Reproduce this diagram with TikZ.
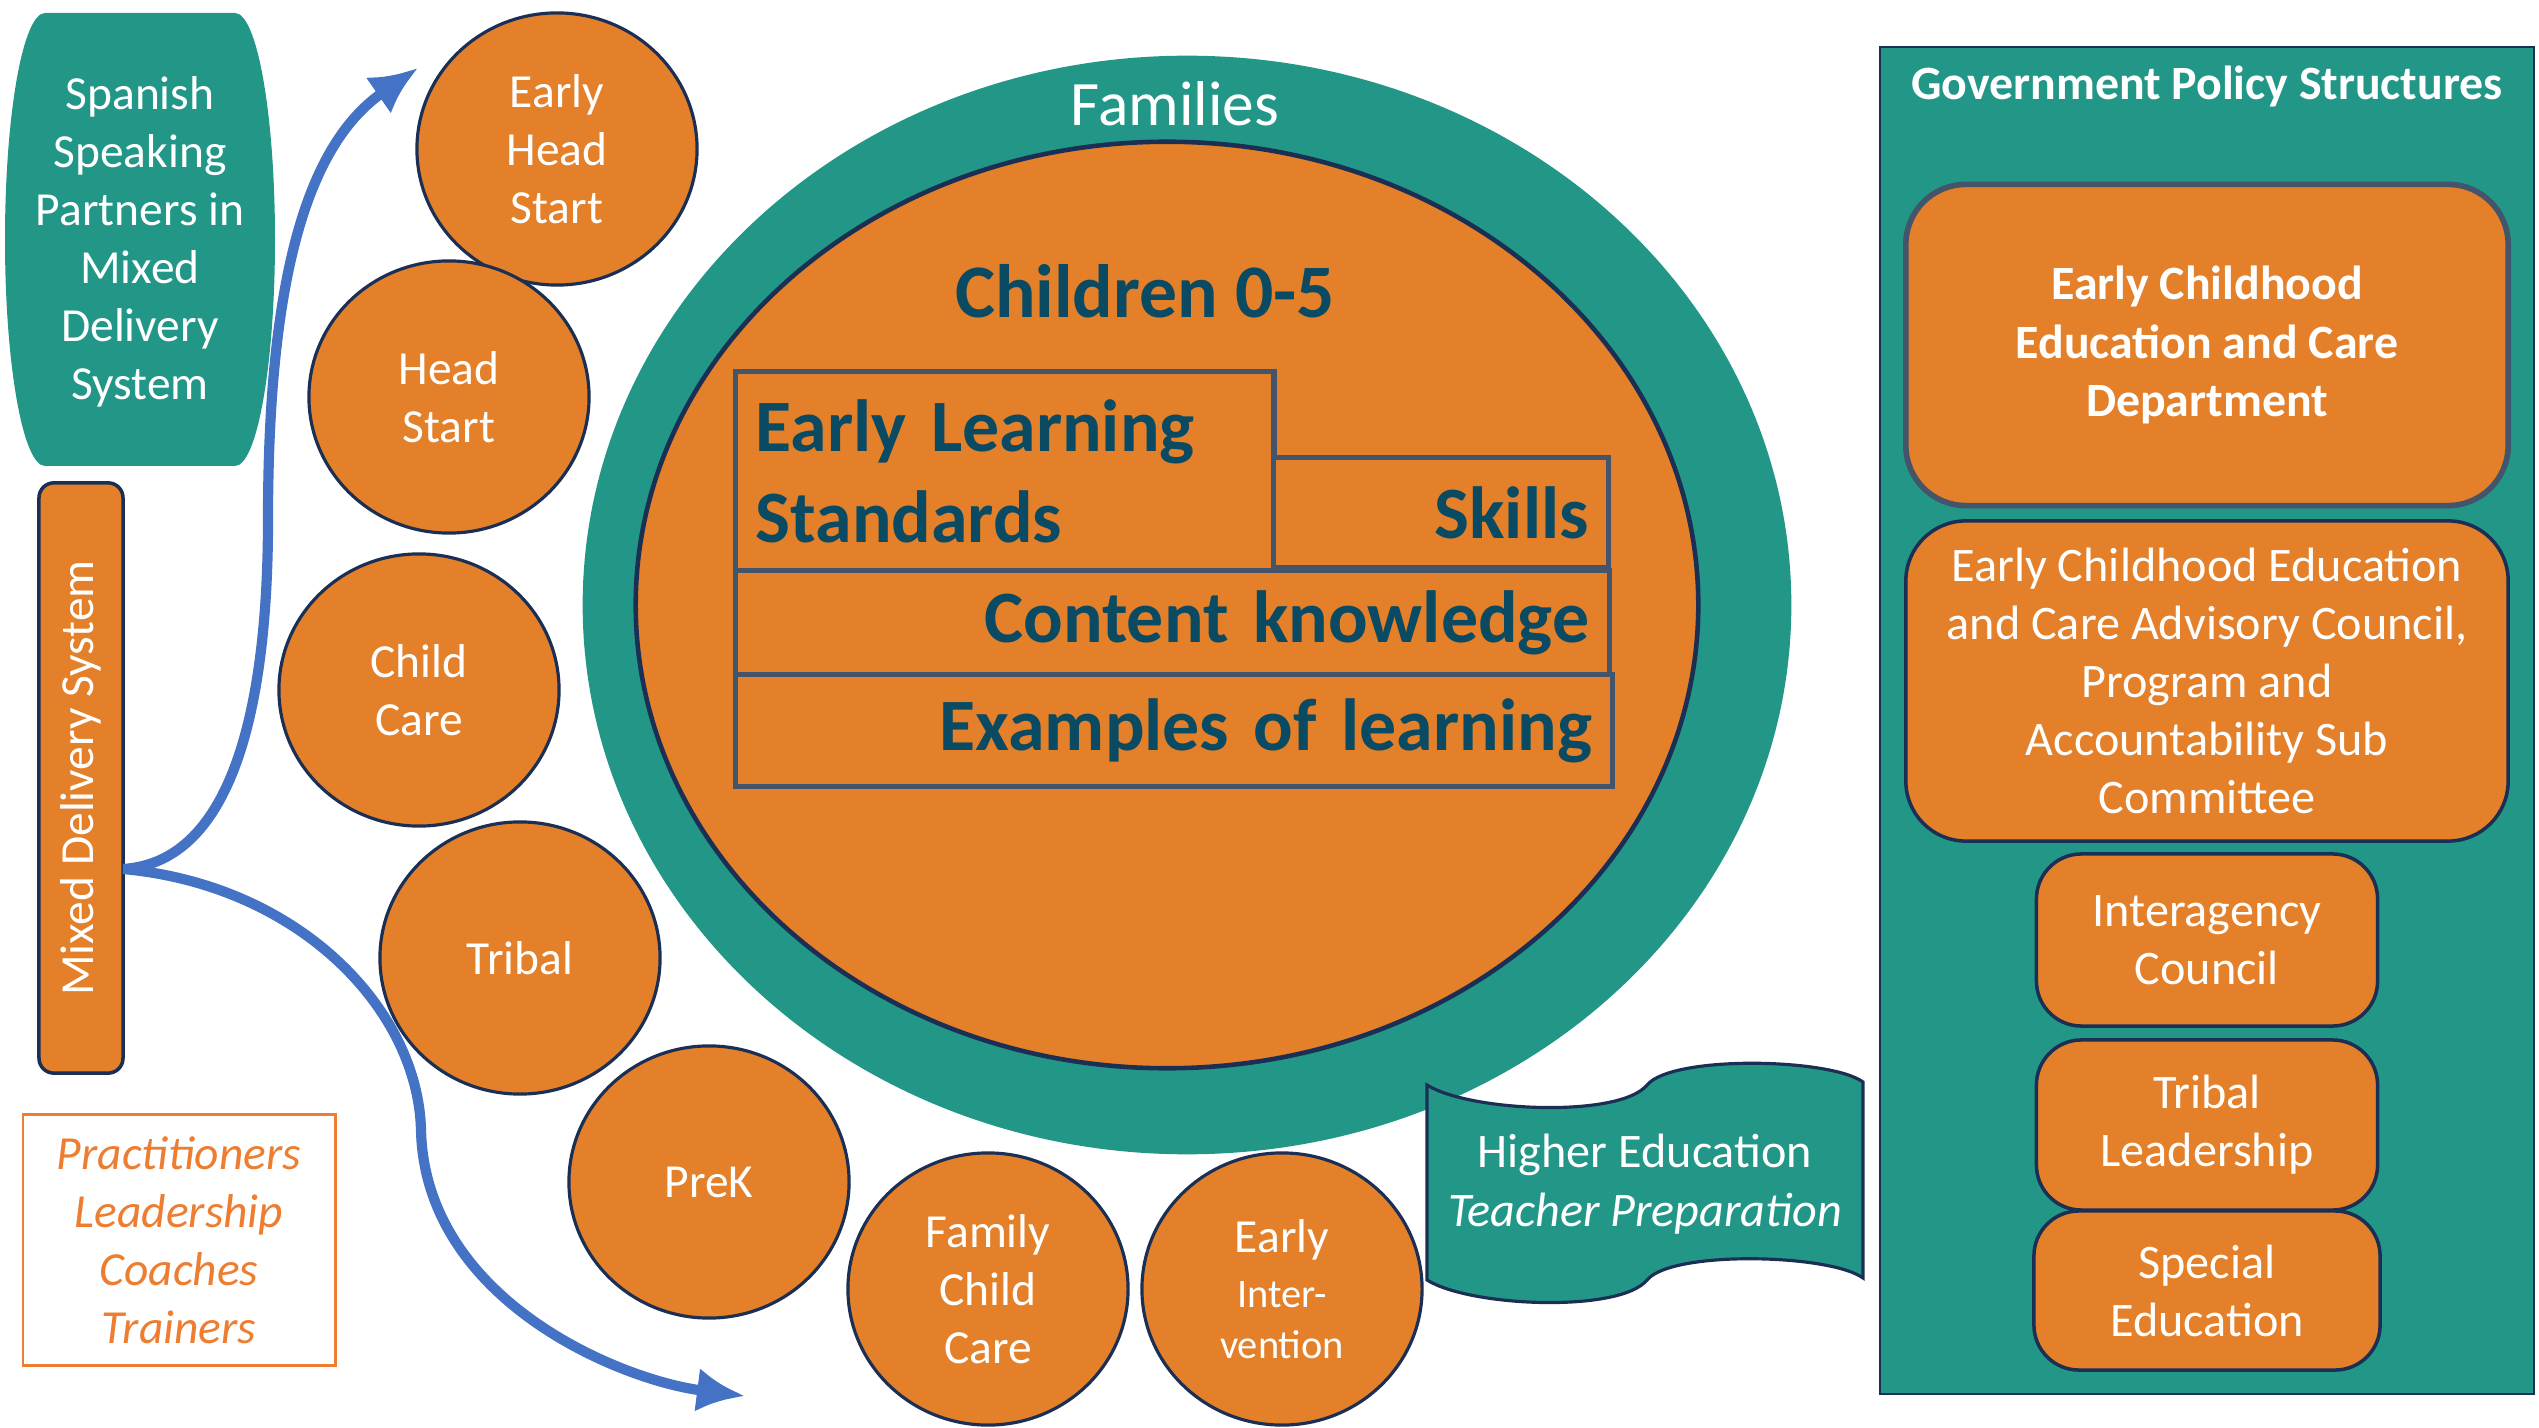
\documentclass[tikz,border=0pt]{standalone}
\usepackage{fontspec}
\setmainfont{Carlito}
\usetikzlibrary{shapes.geometric,arrows.meta,positioning}

\definecolor{edTeal}{HTML}{229787}
\definecolor{edOrange}{HTML}{E38029}
\definecolor{edNavy}{HTML}{1B2F55}
\definecolor{edSlate}{HTML}{44546A}
\definecolor{edInk}{HTML}{0A4A62}
\definecolor{edBlue}{HTML}{4472C4}
\definecolor{edPeach}{HTML}{ED7D31}

\tikzset{
  prog/.style={ellipse, draw=edNavy, line width=0.9pt, fill=edOrange, text=white,
    minimum width=2.80cm, minimum height=2.72cm, inner sep=0pt, align=center,
    font=\fontsize{13.5}{16.5}\selectfont},
  slab/.style={rectangle, draw=edSlate, line width=1.5pt, fill=edOrange, text=edInk,
    font=\fontsize{21}{26}\selectfont\bfseries, inner xsep=0.2cm, inner ysep=0pt, anchor=north west},
  govbox/.style={rectangle, rounded corners=0.45cm, draw=edNavy, line width=1pt, fill=edOrange,
    text=white, align=center, font=\fontsize{13.7}{16.5}\selectfont},
  flow/.style={draw=edBlue, line width=2.9pt, -{Latex[length=0.48cm,width=0.44cm]}},
}

\begin{document}
\begin{tikzpicture}[x=0.01cm, y=-0.01cm]
\useasboundingbox (0,0) rectangle (2539,1428);

% left column
\fill[edTeal] (45,13) -- (235,13) .. controls (257,13) and (275,114) .. (275,239.5)
  .. controls (275,365) and (257,466) .. (235,466) -- (45,466)
  .. controls (23,466) and (5,365) .. (5,239.5) .. controls (5,114) and (23,13) .. (45,13) -- cycle;
\node[text=white, align=center, font=\fontsize{13.5}{16.5}\selectfont] (spanish) at (140,242)
  {Spanish\\Speaking\\Partners in\\Mixed\\Delivery\\System};

\node[rectangle, rounded corners=0.15cm, draw=edNavy, line width=1pt, fill=edOrange,
  minimum width=0.84cm, minimum height=5.90cm] (mds) at (81,778) {};
\node[rotate=90, text=white, font=\fontsize{13.5}{16.5}\selectfont] (mdslabel) at (mds.center) {Mixed Delivery System};

\node[rectangle, draw=edPeach, line width=0.8pt, minimum width=3.12cm, minimum height=2.51cm,
  text=edPeach, align=center, font=\fontsize{13.5}{16.5}\selectfont\itshape] (roles) at (179,1240)
  {Practitioners\\Leadership\\Coaches\\Trainers};

% families and children
\node[ellipse, fill=edTeal, minimum width=12.08cm, minimum height=10.98cm] (familyring) at (1187,605) {};
\node[ellipse, draw=edNavy, line width=1.3pt, fill=edOrange, minimum width=10.62cm, minimum height=9.26cm] (childzone) at (1167,605) {};
\node[text=white, font=\fontsize{18}{22}\selectfont] (families) at (1175,104) {Families};
\node[text=edInk, font=\fontsize{21.5}{26}\selectfont\bfseries] (children) at (1145,291) {Children 0-5};

\node[slab, minimum width=5.38cm, minimum height=1.99cm, text width=4.98cm, align=left] (els) at (733,369) {Early Learning\\Standards};
\node[slab, minimum width=3.35cm, minimum height=1.10cm, text width=2.95cm, align=right] (skills) at (1271,455) {Skills};
\node[slab, minimum width=8.73cm, minimum height=1.04cm, text width=8.33cm, align=right] (content) at (733,568) {Content knowledge};
\node[slab, minimum width=8.76cm, minimum height=1.12cm, text width=8.36cm, align=right] (examples) at (733,672) {Examples of learning};

% programs
\node[prog] (ehs) at (557,149) {Early\\Head\\Start};
\node[prog] (hs) at (449,397) {Head\\Start};
\node[prog] (cc) at (419,690) {Child\\Care};
\node[prog] (tribal) at (520,958) {Tribal};
\node[prog] (prek) at (709,1182) {PreK};
\node[prog] (fcc) at (988,1289) {Family\\Child\\Care};
\node[prog] (ei) at (1282,1289) {Early\\[-1pt]{\fontsize{11.5}{15}\selectfont Inter-}\\[-2pt]{\fontsize{11.5}{15}\selectfont vention}};

% arrows
\coordinate (fork) at (123,869);
\coordinate (uptip) at (418,68);
\coordinate (lowtip) at (745,1396);
\draw[flow] (fork) .. controls (235,862) and (268,700) .. (268,520) .. controls (268,300) and (300,150) .. (uptip);
\draw[flow] (fork) .. controls (300,885) and (418,1010) .. (421,1130) .. controls (425,1300) and (620,1380) .. (lowtip);

% higher education banner
\filldraw[fill=edTeal, draw=edNavy, line width=0.9pt] (1427,1085) .. controls (1470,1112) and (1620,1118) .. (1647,1085)
  .. controls (1672,1055) and (1830,1058) .. (1863,1082) -- (1863,1278)
  .. controls (1830,1254) and (1672,1250) .. (1647,1280)
  .. controls (1620,1313) and (1470,1307) .. (1427,1280) -- cycle;
\node[text=white, align=center, font=\fontsize{13.7}{16.8}\selectfont] (higher) at (1645,1184)
  {Higher Education\\\textit{Teacher Preparation}};

% government panel
\node[rectangle, draw=edNavy, line width=0.6pt, fill=edTeal, minimum width=6.54cm, minimum height=13.47cm] (govpanel) at (2207,720.5) {};
\node[text=white, font=\fontsize{13.6}{16}\selectfont\bfseries] (govtitle) at (2207,86) {Government Policy Structures};
\node[govbox, draw=edSlate, line width=1.6pt, rounded corners=0.6cm, minimum width=6.02cm, minimum height=3.21cm,
  font=\fontsize{13.6}{16.5}\selectfont\bfseries] (department) at (2207,345) {Early Childhood\\Education and Care\\Department};
\node[govbox, rounded corners=0.6cm, minimum width=6.02cm, minimum height=3.20cm] (advisory) at (2207,681)
  {Early Childhood Education\\and Care Advisory Council,\\Program and\\Accountability Sub\\Committee};
\node[govbox, minimum width=3.41cm, minimum height=1.72cm] (interagency) at (2207,940) {Interagency\\Council};
\node[govbox, minimum width=3.41cm, minimum height=1.70cm] (tribalgov) at (2207,1125) {Tribal\\Leadership};
\node[govbox, minimum width=3.46cm, minimum height=1.59cm] (speced) at (2207,1290.5) {Special\\Education};

\end{tikzpicture}
\end{document}
